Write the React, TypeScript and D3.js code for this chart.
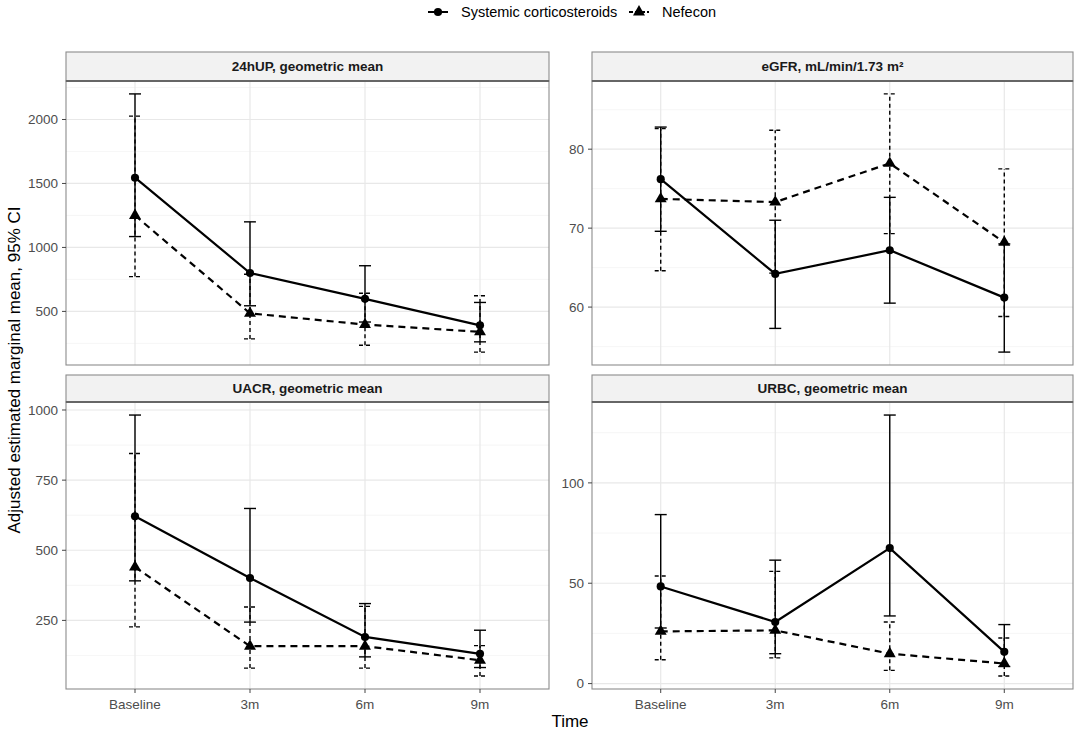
import * as d3 from 'd3';

const times = ['Baseline', '3m', '6m', '9m'];
const panelTitles = [
  '24hUP, geometric mean',
  'eGFR, mL/min/1.73 m²',
  'UACR, geometric mean',
  'URBC, geometric mean',
];
const groups = ['Systemic corticosteroids', 'Nefecon'];

// 24hUP
const upSteroidMean = [1545, 800, 598, 391];
const upSteroidLow = [1085, 544, 417, 262];
const upSteroidHigh = [2200, 1200, 857, 570];
const upNefeconMean = [1250, 485, 397, 340];
const upNefeconLow = [772, 285, 236, 182];
const upNefeconHigh = [2026, 790, 642, 622];
const upTicks = [500, 1000, 1500, 2000];

// eGFR
const gfrSteroidMean = [76.2, 64.2, 67.2, 61.2];
const gfrSteroidLow = [69.6, 57.3, 60.5, 54.3];
const gfrSteroidHigh = [82.8, 71.0, 73.9, 68.0];
const gfrNefeconMean = [73.7, 73.3, 78.2, 68.2];
const gfrNefeconLow = [64.6, 64.3, 69.3, 58.8];
const gfrNefeconHigh = [82.6, 82.4, 87.0, 77.5];
const gfrTicks = [60, 70, 80];

// UACR
const acrSteroidMean = [621, 401, 191, 131];
const acrSteroidLow = [391, 244, 120, 82];
const acrSteroidHigh = [982, 649, 310, 215];
const acrNefeconMean = [440, 158, 158, 108];
const acrNefeconLow = [227, 80, 80, 52];
const acrNefeconHigh = [845, 298, 300, 160];
const acrTicks = [250, 500, 750, 1000];

// URBC
const rbcSteroidMean = [48.4, 30.7, 67.5, 15.8];
const rbcSteroidLow = [27.7, 14.9, 33.7, 8.5];
const rbcSteroidHigh = [84.2, 61.5, 133.8, 29.4];
const rbcNefeconMean = [26.0, 26.5, 14.9, 10.0];
const rbcNefeconLow = [11.9, 12.8, 6.6, 3.8];
const rbcNefeconHigh = [53.6, 55.9, 30.7, 22.7];
const rbcTicks = [0, 50, 100];

const panels = [
  { title: panelTitles[0], ticks: upTicks,
    series: [[upSteroidMean, upSteroidLow, upSteroidHigh], [upNefeconMean, upNefeconLow, upNefeconHigh]] },
  { title: panelTitles[1], ticks: gfrTicks,
    series: [[gfrSteroidMean, gfrSteroidLow, gfrSteroidHigh], [gfrNefeconMean, gfrNefeconLow, gfrNefeconHigh]] },
  { title: panelTitles[2], ticks: acrTicks,
    series: [[acrSteroidMean, acrSteroidLow, acrSteroidHigh], [acrNefeconMean, acrNefeconLow, acrNefeconHigh]] },
  { title: panelTitles[3], ticks: rbcTicks,
    series: [[rbcSteroidMean, rbcSteroidLow, rbcSteroidHigh], [rbcNefeconMean, rbcNefeconLow, rbcNefeconHigh]] },
];

const W = 1080;
const H = 734;
const cols = [[66, 549], [592, 1073]];
const rows = [
  { strip: 52, top: 81, bottom: 365 },
  { strip: 375, top: 402, bottom: 689 },
];
const font = '"Liberation Sans", Arial, sans-serif';
const lineDash = ['none', '7 5'];
const barDash = ['none', '4 3'];
const circle = d3.symbol(d3.symbolCircle, 52)();
const triangle = d3.symbol(d3.symbolTriangle, 62)();
const shapes = [circle, triangle];

function Panel({ p, col, row }: { p: typeof panels[number]; col: number[]; row: typeof rows[number] }) {
  const [x0, x1] = col;
  const x = d3.scalePoint<string>().domain(times).range([x0, x1]).padding(0.6);
  const all = p.series.flatMap(s => s.flat());
  const [lo, hi] = d3.extent(all) as [number, number];
  const pad = (hi - lo) * 0.05;
  const y = d3.scaleLinear().domain([lo - pad, hi + pad]).range([row.bottom, row.top]);
  const step = p.ticks[1] - p.ticks[0];
  const minors = d3.range(p.ticks[0] - step / 2, p.ticks[p.ticks.length - 1] + step, step)
    .filter(v => v > lo - pad && v < hi + pad);
  const line = d3.line<number>().x((_, i) => x(times[i])!).y(v => y(v));
  const cap = 6;

  return (
    <g>
      {minors.map(v => (
        <line key={'m' + v} x1={x0} x2={x1} y1={y(v)} y2={y(v)} stroke="#f0f0f0" strokeWidth={0.6} />
      ))}
      {p.ticks.map(v => (
        <line key={'g' + v} x1={x0} x2={x1} y1={y(v)} y2={y(v)} stroke="#e8e8e8" strokeWidth={1.2} />
      ))}
      {times.map(t => (
        <line key={'v' + t} x1={x(t)} x2={x(t)} y1={row.top} y2={row.bottom} stroke="#e8e8e8" strokeWidth={1.2} />
      ))}
      {p.series.map(([mean, low, high], g) => (
        <g key={'s' + g}>
          <path d={line(mean)!} fill="none" stroke="#000" strokeWidth={2.2} strokeDasharray={lineDash[g]} />
          {times.map((t, i) => (
            <g key={t} stroke="#000" strokeWidth={1.4} strokeDasharray={barDash[g]}>
              <line x1={x(t)} x2={x(t)} y1={y(low[i])} y2={y(high[i])} />
              <line x1={x(t)! - cap} x2={x(t)! + cap} y1={y(low[i])} y2={y(low[i])} />
              <line x1={x(t)! - cap} x2={x(t)! + cap} y1={y(high[i])} y2={y(high[i])} />
            </g>
          ))}
          {times.map((t, i) => (
            <path key={'p' + t} d={shapes[g]!} transform={`translate(${x(t)},${y(mean[i])})`} fill="#000" />
          ))}
        </g>
      ))}
      <rect x={x0} y={row.top} width={x1 - x0} height={row.bottom - row.top} fill="none" stroke="#8c8c8c" strokeWidth={1.1} />
      <rect x={x0} y={row.strip} width={x1 - x0} height={row.top - row.strip} fill="#f2f2f2" stroke="#8c8c8c" strokeWidth={1.1} />
      <line x1={x0} x2={x1} y1={row.top} y2={row.top} stroke="#666" strokeWidth={1.8} />
      <text x={(x0 + x1) / 2} y={(row.strip + row.top) / 2} dy="0.35em" textAnchor="middle"
        fontFamily={font} fontWeight="bold" fontSize={13.5} fill="#1a1a1a">{p.title}</text>
      {p.ticks.map(v => (
        <g key={'t' + v}>
          <line x1={x0 - 4} x2={x0} y1={y(v)} y2={y(v)} stroke="#444" strokeWidth={1} />
          <text x={x0 - 8} y={y(v)} dy="0.35em" textAnchor="end" fontFamily={font} fontSize={13.5} fill="#4d4d4d">{v}</text>
        </g>
      ))}
      {row === rows[1] && times.map(t => (
        <g key={'xt' + t}>
          <line x1={x(t)} x2={x(t)} y1={row.bottom} y2={row.bottom + 4} stroke="#444" strokeWidth={1} />
          <text x={x(t)} y={row.bottom + 15} dy="0.35em" textAnchor="middle" fontFamily={font} fontSize={13.5} fill="#4d4d4d">{t}</text>
        </g>
      ))}
    </g>
  );
}

export default function App() {
  const legendX = [428, 629];
  const legendTextX = [461, 662];
  return (
    <svg width={W} height={H} style={{ position: 'absolute', left: 0, top: 0, background: '#fff' }}>
      <rect width={W} height={H} fill="#fff" />
      {groups.map((g, i) => (
        <g key={g}>
          <line x1={legendX[i]} x2={legendX[i] + 20} y1={12} y2={12} stroke="#000" strokeWidth={2}
            strokeDasharray={i === 1 ? '4 2' : 'none'} />
          <path d={shapes[i]!} transform={`translate(${legendX[i] + 10},12)`} fill="#000" />
          <text x={legendTextX[i]} y={12} dy="0.35em" fontFamily={font} fontSize={14.5} fill="#000">{g}</text>
        </g>
      ))}
      {panels.map((p, i) => (
        <Panel key={p.title} p={p} col={cols[i % 2]} row={rows[Math.floor(i / 2)]} />
      ))}
      <text x={570} y={721} dy="0.35em" textAnchor="middle" fontFamily={font} fontSize={17} fill="#000">Time</text>
      <text transform={`translate(14,370) rotate(-90)`} dy="0.35em" textAnchor="middle" fontFamily={font} fontSize={17} fill="#000">
        Adjusted estimated marginal mean, 95% CI
      </text>
    </svg>
  );
}
